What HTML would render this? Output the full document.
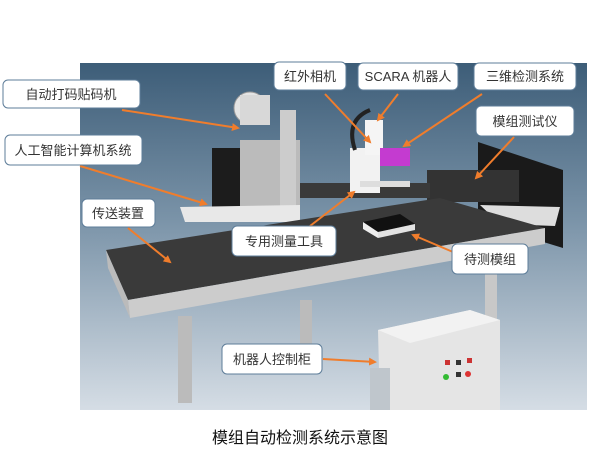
<!DOCTYPE html>
<html><head><meta charset="utf-8"><style>
body{margin:0;width:600px;height:459px;background:#fff;overflow:hidden;font-family:"Liberation Sans","Noto Sans CJK SC",sans-serif}
</style></head><body>
<svg width="600" height="459" xmlns="http://www.w3.org/2000/svg" style="position:absolute;left:0;top:0">
<defs>
<linearGradient id="bg" x1="0" y1="0" x2="0" y2="1">
<stop offset="0" stop-color="#3d5d78"/><stop offset="0.45" stop-color="#7a93a8"/><stop offset="1" stop-color="#d5dde5"/>
</linearGradient>
<marker id="ar" markerWidth="8" markerHeight="8" refX="6" refY="4" orient="auto" markerUnits="userSpaceOnUse"><path d="M0,0 L8,4 L0,8 z" fill="#f07d2c"/></marker>
</defs>
<rect x="80" y="63" width="507" height="347" fill="url(#bg)"/>
<!-- tester screen -->
<polygon points="478,142 563,170 563,248 478,222" fill="#1a1a1a"/>
<rect x="427" y="170" width="92" height="32" fill="#333"/>
<polygon points="480,205 560,207 555,226 500,224" fill="#ddd"/>
<!-- labeler -->
<rect x="212" y="148" width="48" height="62" fill="#1c1c1c"/>
<circle cx="250" cy="108" r="16" fill="#e4e4e4" stroke="#999"/>
<rect x="240" y="95" width="30" height="30" fill="#d8d8d8"/>
<rect x="240" y="140" width="60" height="70" fill="#bbb"/>
<rect x="280" y="110" width="16" height="100" fill="#ccc"/>
<polygon points="180,207 300,205 300,222 185,222" fill="#e8e8e8"/>
<!-- robot -->
<rect x="300" y="183" width="130" height="15" fill="#3a3a3a"/>
<rect x="350" y="148" width="30" height="45" fill="#f2f2f2"/>
<rect x="365" y="120" width="18" height="35" fill="#f5f5f5"/>
<path d="M355,150 Q345,120 370,110" stroke="#222" stroke-width="4" fill="none"/>
<rect x="380" y="148" width="30" height="18" fill="#c43bd0"/>
<rect x="360" y="181" width="50" height="6" fill="#ddd"/>
<!-- conveyor -->
<polygon points="106,250 440,198 545,228 128,300" fill="#3a3a3a"/>
<polygon points="128,300 545,228 545,244 130,318" fill="#ccc"/>
<polygon points="106,250 128,300 130,318 108,268" fill="#bbb"/>
<rect x="178" y="316" width="14" height="87" fill="#bbb"/>
<rect x="300" y="300" width="12" height="60" fill="#bbb"/>
<rect x="485" y="245" width="12" height="105" fill="#c8c8c8"/>
<!-- module -->
<polygon points="363,222 400,214 415,224 378,232" fill="#111"/>
<polygon points="363,222 378,232 378,238 363,229" fill="#eee"/>
<polygon points="378,232 415,224 415,230 378,238" fill="#e2e2e2"/>
<!-- cabinet -->
<polygon points="378,330 470,310 500,320 500,410 380,410" fill="#e5e5e5"/>
<polygon points="378,330 470,310 500,320 410,343" fill="#f2f2f2"/>
<rect x="370" y="368" width="20" height="42" fill="#bfc6cc"/>
<rect x="445" y="360" width="5" height="5" fill="#c33"/><rect x="456" y="360" width="5" height="5" fill="#333"/><rect x="467" y="358" width="5" height="5" fill="#c33"/>
<circle cx="446" cy="377" r="3" fill="#3b3"/><rect x="456" y="372" width="5" height="5" fill="#333"/><circle cx="468" cy="374" r="3" fill="#d33"/>
<!-- arrows -->
<g stroke="#f07d2c" stroke-width="2" fill="none" marker-end="url(#ar)">
<line x1="122" y1="110" x2="238" y2="128"/>
<line x1="80" y1="166" x2="206" y2="204"/>
<line x1="128" y1="228" x2="170" y2="262"/>
<line x1="325" y1="94" x2="370" y2="142"/>
<line x1="398" y1="94" x2="378" y2="120"/>
<line x1="482" y1="94" x2="404" y2="146"/>
<line x1="514" y1="137" x2="476" y2="178"/>
<line x1="310" y1="226" x2="354" y2="192"/>
<line x1="453" y1="252" x2="413" y2="235"/>
<line x1="323" y1="359" x2="375" y2="362"/>
</g>
<g font-size="13" fill="#333" text-anchor="middle" font-family="Liberation Sans,Noto Sans CJK SC,sans-serif">
<rect x="3" y="80" width="137" height="28" rx="5" fill="#fff" stroke="#5e7d99"/><text x="71" y="99">自动打码贴码机</text>
<rect x="5" y="135" width="137" height="30" rx="5" fill="#fff" stroke="#5e7d99"/><text x="73" y="155">人工智能计算机系统</text>
<rect x="82" y="199" width="73" height="28" rx="5" fill="#fff" stroke="#5e7d99"/><text x="118" y="218">传送装置</text>
<rect x="274" y="62" width="72" height="28" rx="5" fill="#fff" stroke="#5e7d99"/><text x="310" y="81">红外相机</text>
<rect x="358" y="63" width="100" height="27" rx="5" fill="#fff" stroke="#5e7d99"/><text x="408" y="81">SCARA 机器人</text>
<rect x="474" y="63" width="102" height="27" rx="5" fill="#fff" stroke="#5e7d99"/><text x="525" y="81">三维检测系统</text>
<rect x="476" y="106" width="98" height="30" rx="5" fill="#fff" stroke="#5e7d99"/><text x="525" y="126">模组测试仪</text>
<rect x="232" y="226" width="104" height="30" rx="5" fill="#fff" stroke="#5e7d99"/><text x="284" y="246">专用测量工具</text>
<rect x="452" y="244" width="76" height="30" rx="5" fill="#fff" stroke="#5e7d99"/><text x="490" y="264">待测模组</text>
<rect x="222" y="344" width="100" height="30" rx="5" fill="#fff" stroke="#5e7d99"/><text x="272" y="364">机器人控制柜</text>
</g>
<text x="300" y="443" font-size="16" text-anchor="middle" fill="#111" font-family="Liberation Sans,Noto Sans CJK SC,sans-serif">模组自动检测系统示意图</text>
</svg>
</body></html>
